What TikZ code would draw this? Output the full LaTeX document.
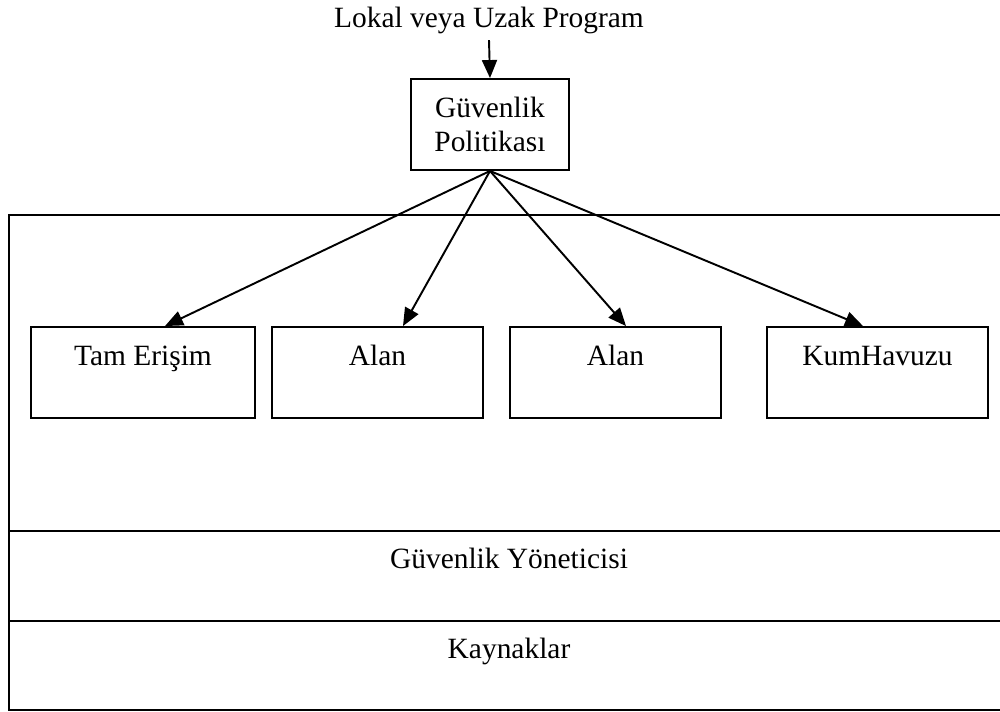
\documentclass[tikz,border=0pt]{standalone}
\usepackage{fontspec}
\setmainfont{Liberation Serif}
\usetikzlibrary{arrows.meta}
\begin{document}
\begin{tikzpicture}[x=0.02cm, y=-0.02cm, line width=1.1pt,
		kutu/.style={draw, minimum height=1.82cm, inner sep=0pt},
		ok/.style={-{Triangle[length=0.36cm,width=0.3cm]}},
		font=\fontsize{16.75}{19.3}\selectfont]
		\useasboundingbox (0,0) rectangle (1000,711);
		\node[anchor=base] (prog) at (489,27) {Lokal veya Uzak Program};
		\node[kutu, minimum width=3.16cm, align=center] (pol) at (490,124.5) {Güvenlik\\Politikası};
		\draw[ok] (prog.south) -- (pol.north);
		% katmanlar
		\draw (1000,215) -- (9,215) -- (9,710) -- (1000,710);
		\draw (9,531) -- (1000,531);
		\draw (9,621) -- (1000,621);
		\node[anchor=base] (yon) at (509,568) {Güvenlik Yöneticisi};
		\node[anchor=base] (kay) at (509,658) {Kaynaklar};
		% alanlar
		\node[kutu, minimum width=4.48cm] (tam) at (143,372.5) {};
		\node[kutu, minimum width=4.22cm] (alan1) at (377.5,372.5) {};
		\node[kutu, minimum width=4.22cm] (alan2) at (615.5,372.5) {};
		\node[kutu, minimum width=4.42cm] (kum) at (877.5,372.5) {};
		\node[anchor=base] (tamT) at ([yshift=-0.78cm]tam.north) {Tam Erişim};
		\node[anchor=base] (alan1T) at ([yshift=-0.78cm]alan1.north) {Alan};
		\node[anchor=base] (alan2T) at ([yshift=-0.78cm]alan2.north) {Alan};
		\node[anchor=base] (kumT) at ([yshift=-0.78cm]kum.north) {KumHavuzu};
		\draw[ok] (pol.south) -- ([xshift=0.44cm]tam.north);
		\draw[ok] (pol.south) -- ([xshift=0.51cm]alan1.north);
		\draw[ok] (pol.south) -- ([xshift=0.21cm]alan2.north);
		\draw[ok] (pol.south) -- ([xshift=-0.29cm]kum.north);
	\end{tikzpicture}
\end{document}
